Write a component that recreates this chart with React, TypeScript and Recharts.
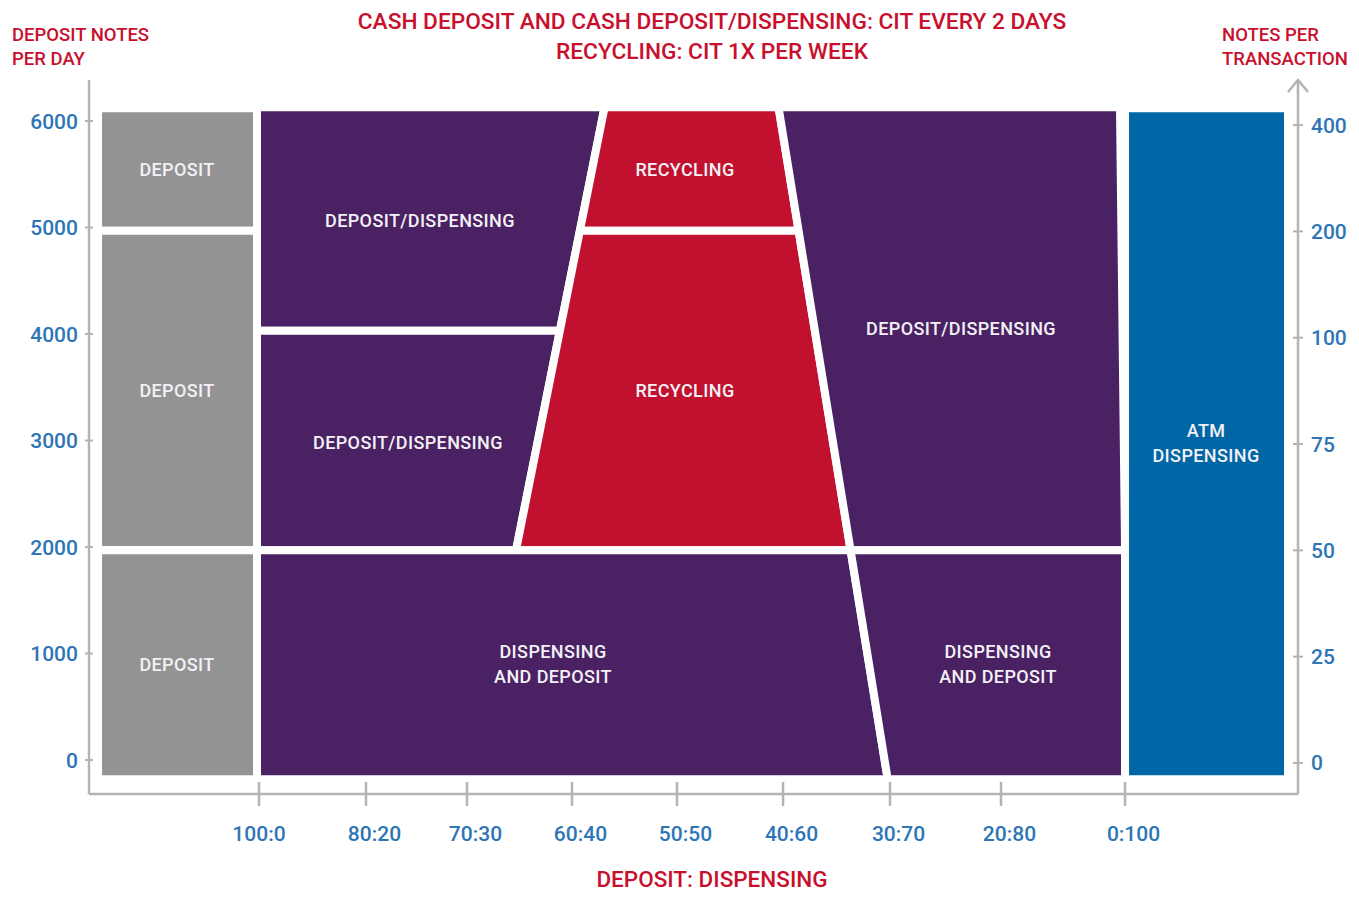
import React from 'react';
import { ComposedChart, XAxis, YAxis, ReferenceArea, ReferenceDot } from 'recharts';

const FONT = 'Roboto, "Noto Sans", "DejaVu Sans", sans-serif';

// ---- axes ----
const xTickValues = [0, 1.017, 1.977, 2.975, 3.973, 4.981, 5.998, 7.053, 8.232];
const xTickLabels = ['100:0', '80:20', '70:30', '60:40', '50:50', '40:60', '30:70', '20:80', '0:100'];
const xDomain = [-1.616, 9.876];

const leftTickValues = [0, 1000, 2000, 3000, 4000, 5000, 6000];
const leftDomain = [-319, 6385];

const rightTickValues = [0, 1, 2, 3, 4, 5, 6];
const rightTickLabels = ['0', '25', '50', '75', '100', '200', '400'];
const rightDomain = [-0.292, 6.424];

// ---- regions: vertices [ratio position, deposit notes per day] ----
const depositHigh = [[-1.53, 4970], [-0.019, 4970], [-0.019, 6120], [-1.53, 6120]];
const depositMid = [[-1.53, 1970], [-0.019, 1970], [-0.019, 4970], [-1.53, 4970]];
const depositLow = [[-1.53, -180], [-0.019, -180], [-0.019, 1970], [-1.53, 1970]];
const depDispUpper = [[-0.019, 4030], [2.859, 4030], [3.285, 6130], [-0.019, 6130]];
const depDispLower = [[-0.019, 1970], [2.443, 1970], [2.859, 4030], [-0.019, 4030]];
const recyclingHigh = [[3.05, 4970], [5.129, 4970], [4.938, 6130], [3.285, 6130]];
const recyclingLow = [[2.443, 1970], [5.623, 1970], [5.129, 4970], [3.05, 4970]];
const depDispRight = [[5.623, 1970], [8.232, 1970], [8.184, 6130], [4.938, 6130]];
const dispDepLeft = [[-0.019, -180], [5.976, -180], [5.623, 1970], [-0.019, 1970]];
const dispDepRight = [[5.976, -180], [8.232, -180], [8.232, 1970], [5.623, 1970]];
const atmDispensing = [[8.232, -180], [9.781, -180], [9.781, 6120], [8.232, 6120]];

const regionVertices = [
  depositHigh, depositMid, depositLow, depDispUpper, depDispLower,
  recyclingHigh, recyclingLow, depDispRight, dispDepLeft, dispDepRight, atmDispensing,
];
const regionKinds = [
  'deposit', 'deposit', 'deposit', 'mixed', 'mixed',
  'recycling', 'recycling', 'mixed', 'mixed', 'mixed', 'atm',
];
const regionLabels = [
  ['DEPOSIT'], ['DEPOSIT'], ['DEPOSIT'], ['DEPOSIT/DISPENSING'], ['DEPOSIT/DISPENSING'],
  ['RECYCLING'], ['RECYCLING'], ['DEPOSIT/DISPENSING'], ['DISPENSING', 'AND DEPOSIT'],
  ['DISPENSING', 'AND DEPOSIT'], ['ATM', 'DISPENSING'],
];
const labelAnchorX = [-0.779, -0.779, -0.779, 1.53, 1.416, 4.049, 4.049, 6.673, 2.795, 7.025, 9.002];
const labelAnchorY = [5540, 3465, 901, 5070, 2977, 5540, 3465, 4047, 897, 897, 2972];

// ---- styles ----
const KIND_COLORS: Record<string, string> = {
  deposit: '#939393',
  mixed: '#4a2263',
  recycling: '#c1112f',
  atm: '#0066a6',
};
const AXIS = '#b4b4b7';
const TICK_BLUE = '#2e75b6';
const TITLE_RED = '#c8102e';

function bounds(v: number[][]) {
  const xs = v.map((p) => p[0]);
  const ys = v.map((p) => p[1]);
  return { x1: Math.min(...xs), x2: Math.max(...xs), y1: Math.min(...ys), y2: Math.max(...ys) };
}

function makeShape(i: number) {
  const verts = regionVertices[i];
  const b = bounds(verts);
  const fill = KIND_COLORS[regionKinds[i]];
  const lines = regionLabels[i];
  return (p: any) => {
    const { x, y, width, height } = p;
    const px = (vx: number) => x + ((vx - b.x1) / (b.x2 - b.x1)) * width;
    const py = (vy: number) => y + ((b.y2 - vy) / (b.y2 - b.y1)) * height;
    const d = verts.map((v, k) => `${k === 0 ? 'M' : 'L'}${px(v[0])},${py(v[1])}`).join(' ') + ' Z';
    const cx = px(labelAnchorX[i]);
    const cy = py(labelAnchorY[i]);
    return (
      <g>
        <path d={d} fill={fill} stroke="#ffffff" strokeWidth={8} strokeLinejoin="round" />
        {lines.map((t, k) => (
          <text
            key={k}
            x={cx}
            y={cy + (k - (lines.length - 1) / 2) * 25}
            dy="0.36em"
            textAnchor="middle"
            fill="#f3f1f6"
            fontFamily={FONT}
            fontWeight={500}
            fontSize={18}
            letterSpacing={0.4}
          >
            {t}
          </text>
        ))}
      </g>
    );
  };
}

const XTick = (props: any) => {
  const { x, y, payload } = props;
  const idx = xTickValues.indexOf(payload.value);
  const label = xTickLabels[idx] ?? '';
  return (
    <g>
      <line x1={x} x2={x} y1={y - 12} y2={y + 12} stroke={AXIS} strokeWidth={2.5} />
      <text x={x + (idx === 0 ? 0 : 8.5)} y={y + 47} textAnchor="middle" fill={TICK_BLUE}
        fontFamily={FONT} fontWeight={500} fontSize={21}>
        {label}
      </text>
    </g>
  );
};

const XTitle = (props: any) => {
  const vb = props.viewBox || { x: 0, y: 0, width: 0, height: 0 };
  return (
    <text x={vb.x + vb.width / 2 + 18.5} y={vb.y + 93} textAnchor="middle" fill={TITLE_RED}
      fontFamily={FONT} fontWeight={500} fontSize={22.5}>
      DEPOSIT: DISPENSING
    </text>
  );
};

const LeftTick = (props: any) => {
  const { x, y, payload } = props;
  return (
    <g>
      <line x1={x - 4} x2={x + 4} y1={y} y2={y} stroke={AXIS} strokeWidth={2} />
      <text x={x - 11} y={y + 7.5} textAnchor="end" fill={TICK_BLUE}
        fontFamily={FONT} fontWeight={500} fontSize={21}>
        {payload.value}
      </text>
    </g>
  );
};

const RightTick = (props: any) => {
  const { x, y, payload } = props;
  const idx = rightTickValues.indexOf(payload.value);
  return (
    <g>
      <line x1={x - 5} x2={x + 5} y1={y} y2={y} stroke={AXIS} strokeWidth={2} />
      <text x={x + 13} y={y + 7.5} textAnchor="start" fill={TICK_BLUE}
        fontFamily={FONT} fontWeight={500} fontSize={21}>
        {rightTickLabels[idx] ?? ''}
      </text>
    </g>
  );
};

const ArrowHead = (p: any) => {
  const { cx, cy } = p;
  return (
    <path d={`M${cx - 10},${cy + 12} L${cx},${cy} L${cx + 10},${cy + 12}`}
      fill="none" stroke={AXIS} strokeWidth={2.5} />
  );
};

export default function App() {
  return (
    <div style={{ position: 'relative', width: 1343, height: 883 }}>
      <ComposedChart width={1343} height={883} data={[]} margin={{ top: 72, right: 0, bottom: 0, left: 0 }}>
        <XAxis
          type="number"
          dataKey="x"
          domain={xDomain}
          ticks={xTickValues}
          interval={0}
          allowDataOverflow
          height={97}
          tickSize={0}
          tickMargin={0}
          tickLine={false}
          axisLine={{ stroke: AXIS, strokeWidth: 2.5 }}
          tick={<XTick />}
          label={{ content: XTitle }}
        />
        <YAxis
          yAxisId="left"
          type="number"
          domain={leftDomain}
          ticks={leftTickValues}
          interval={0}
          allowDataOverflow
          width={81}
          tickSize={0}
          tickMargin={0}
          tickLine={false}
          axisLine={{ stroke: AXIS, strokeWidth: 2.5 }}
          tick={<LeftTick />}
        />
        <YAxis
          yAxisId="right"
          orientation="right"
          type="number"
          domain={rightDomain}
          ticks={rightTickValues}
          interval={0}
          allowDataOverflow
          width={53}
          tickSize={0}
          tickMargin={0}
          tickLine={false}
          axisLine={{ stroke: AXIS, strokeWidth: 2.5 }}
          tick={<RightTick />}
        />
        {regionVertices.map((v, i) => {
          const b = bounds(v);
          return (
            <ReferenceArea
              key={i}
              yAxisId="left"
              x1={b.x1}
              x2={b.x2}
              y1={b.y1}
              y2={b.y2}
              ifOverflow="visible"
              shape={makeShape(i)}
            />
          );
        })}
        <ReferenceDot
          yAxisId="left"
          x={xDomain[1]}
          y={leftDomain[1]}
          ifOverflow="visible"
          shape={ArrowHead}
        />
      </ComposedChart>
      <svg
        width={1343}
        height={883}
        style={{ position: 'absolute', left: 0, top: 0, pointerEvents: 'none', overflow: 'visible' }}
      >
        <g transform="translate(-8,-8)" fontFamily={FONT} fontWeight={500} fill={TITLE_RED}>
          <text x={712} y={29} textAnchor="middle" fontSize={22.7}>
            CASH DEPOSIT AND CASH DEPOSIT/DISPENSING: CIT EVERY 2 DAYS
          </text>
          <text x={712} y={59} textAnchor="middle" fontSize={22.7}>
            RECYCLING: CIT 1X PER WEEK
          </text>
          <text x={12} y={41} fontSize={18.5}>DEPOSIT NOTES</text>
          <text x={12} y={65} fontSize={18.5}>PER DAY</text>
          <text x={1222} y={41} fontSize={18.5}>NOTES PER</text>
          <text x={1222} y={65} fontSize={18.5}>TRANSACTION</text>
        </g>
      </svg>
    </div>
  );
}
